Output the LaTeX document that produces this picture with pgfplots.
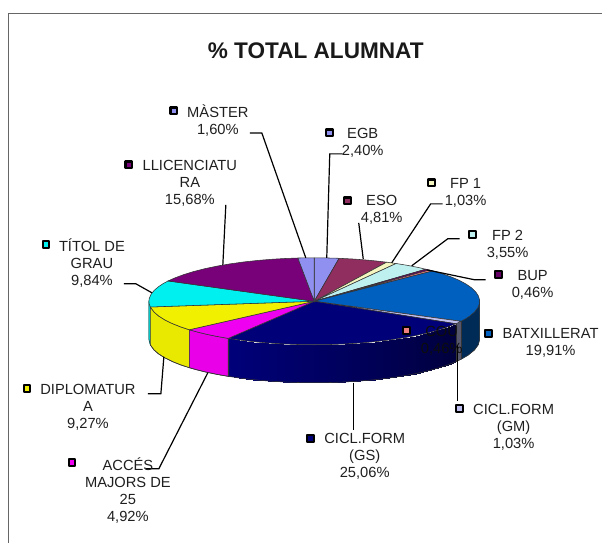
\documentclass[border=0pt]{standalone}
\usepackage{pgfplots}
\pgfplotsset{compat=1.18}
\usepackage{fontspec}
\setmainfont{Liberation Sans}
\tikzset{lab/.style={font=\fontsize{14.7}{17}\selectfont,text=black!88,align=center,inner sep=0pt}}
\pgfplotsset{
  /pgfplots/table/top/.style={row sep=\\,
    x expr={314.5+165.5*\thisrow{r}*sin(3.6*\thisrow{p})},
    y expr={301.5-43.5*\thisrow{r}*cos(3.6*\thisrow{p})}},
  /pgfplots/table/side/.style={row sep=\\,
    x expr={314.5+165.5*sin(3.6*\thisrow{p})},
    y expr={301.5-43.5*cos(3.6*\thisrow{p})+38*\thisrow{z}}},
  slice/.style={fill=#1,draw=black!80,line width=0.55pt,mark=none},
  band/.style={fill=#1,draw=#1,line width=0.3pt,mark=none},
  leader/.style={draw=black,line width=1.2pt,mark=none},
  key/.style={only marks,mark=square*,mark size=3.4pt,
    mark options={draw=black,line width=2.1pt,line join=round,fill=#1}},
}
\definecolor{cegb}{HTML}{9090F0}
\definecolor{ceso}{HTML}{8F2E5F}
\definecolor{cfpa}{HTML}{F5F5C0}
\definecolor{cfpb}{HTML}{BFF0F0}
\definecolor{cbup}{HTML}{660066}
\definecolor{ccou}{HTML}{F08080}
\definecolor{cbat}{HTML}{0060C0}
\definecolor{cgm}{HTML}{C0C0F0}
\definecolor{cgs}{HTML}{000078}
\definecolor{cacc}{HTML}{F000F0}
\definecolor{cdip}{HTML}{F0F000}
\definecolor{ctit}{HTML}{00F0F0}
\definecolor{cllc}{HTML}{780078}
\definecolor{cmas}{HTML}{9090F0}
\begin{document}
\begin{tikzpicture}
\begin{axis}[
  scale only axis,width=602pt,height=543pt,
  xmin=0,xmax=602,ymin=0,ymax=543,y dir=reverse,
  axis line style={draw=none},ticks=none,clip=false,
  colormap={navywall}{rgb255=(0,0,60) rgb255=(0,0,122)}]

% frame
\addplot[draw=black!60,line width=0.9pt,mark=none] coordinates {(8,543) (8,13) (602,13)};

% front wall of the pie
\addplot[band=ctit!92!black] table[side] {p z\\ 72.9 0\\ 74 0\\ 75 0\\ 75 1\\ 74 1\\ 72.9 1\\} -- cycle;
\addplot[slice=cdip!97!black] table[side] {p z\\ 63.63 0\\ 65 0\\ 66.5 0\\ 68 0\\ 69.5 0\\ 71 0\\ 72.9 0\\ 72.9 1\\ 71 1\\ 69.5 1\\ 68 1\\ 66.5 1\\ 65 1\\ 63.63 1\\} -- cycle;
\addplot[slice=cacc!97!black] table[side] {p z\\ 58.71 0\\ 60 0\\ 61.3 0\\ 62.5 0\\ 63.63 0\\ 63.63 1\\ 62.5 1\\ 61.3 1\\ 60 1\\ 58.71 1\\} -- cycle;
\addplot[band=cbat!45!black] table[side] {p z\\ 25 0\\ 27 0\\ 29 0\\ 31 0\\ 32.62 0\\ 32.62 1\\ 31 1\\ 29 1\\ 27 1\\ 25 1\\} -- cycle;
\addplot[band=cgm!45!black] table[side] {p z\\ 32.62 0\\ 33.65 0\\ 33.65 1\\ 32.62 1\\} -- cycle;
\addplot[surf,shader=interp,mesh/rows=2,point meta=\thisrow{p}] table[side] {p z\\
33.65 0\\ 35 0\\ 36.5 0\\ 38 0\\ 39.5 0\\ 41 0\\ 42.5 0\\ 44 0\\ 45.5 0\\ 47 0\\ 48.5 0\\ 50 0\\ 51.5 0\\ 53 0\\ 54.5 0\\ 56 0\\ 57.5 0\\ 58.71 0\\
33.65 1\\ 35 1\\ 36.5 1\\ 38 1\\ 39.5 1\\ 41 1\\ 42.5 1\\ 44 1\\ 45.5 1\\ 47 1\\ 48.5 1\\ 50 1\\ 51.5 1\\ 53 1\\ 54.5 1\\ 56 1\\ 57.5 1\\ 58.71 1\\};
% outline of the wall
\addplot[draw=black!80,line width=0.55pt,mark=none] table[side] {p z\\ 75 0\\ 75 1\\ 72.9 1\\ 71 1\\ 69.5 1\\ 68 1\\ 66.5 1\\ 65 1\\ 63.63 1\\ 62.5 1\\ 61.3 1\\ 60 1\\ 58.71 1\\ 57.5 1\\ 56 1\\ 54.5 1\\ 53 1\\ 51.5 1\\ 50 1\\ 48.5 1\\ 47 1\\ 45.5 1\\ 44 1\\ 42.5 1\\ 41 1\\ 39.5 1\\ 38 1\\ 36.5 1\\ 35 1\\ 33.65 1\\ 32.62 1\\ 31 1\\ 29 1\\ 27 1\\ 25 1\\ 25 0\\};
\addplot[draw=black!80,line width=0.55pt,mark=none] table[side] {p z\\ 58.71 0\\ 58.71 1\\};
\addplot[draw=black!80,line width=0.55pt,mark=none] table[side] {p z\\ 33.65 0\\ 33.65 1\\};
\addplot[draw=black!80,line width=0.55pt,mark=none] table[side] {p z\\ 32.62 0\\ 32.62 1\\};

% top of the pie: cumulative percentages of the slices
\addplot[slice=cegb] table[top] {p r\\ 0 0\\ 0 1\\ 1.2 1\\ 2.4 1\\} -- cycle;
\addplot[slice=ceso] table[top] {p r\\ 0 0\\ 2.4 1\\ 3.6 1\\ 4.8 1\\ 6 1\\ 7.21 1\\} -- cycle;
\addplot[slice=cfpa] table[top] {p r\\ 0 0\\ 7.21 1\\ 8.24 1\\} -- cycle;
\addplot[slice=cfpb] table[top] {p r\\ 0 0\\ 8.24 1\\ 9.5 1\\ 10.7 1\\ 11.79 1\\} -- cycle;
\addplot[slice=cbup] table[top] {p r\\ 0 0\\ 11.79 1\\ 12.25 1\\} -- cycle;
\addplot[slice=ccou] table[top] {p r\\ 0 0\\ 12.25 1\\ 12.71 1\\} -- cycle;
\addplot[slice=cbat] table[top] {p r\\ 0 0\\ 12.71 1\\ 14 1\\ 15.5 1\\ 17 1\\ 18.5 1\\ 20 1\\ 21.5 1\\ 23 1\\ 24.5 1\\ 26 1\\ 27.5 1\\ 29 1\\ 30.5 1\\ 31.5 1\\ 32.62 1\\} -- cycle;
\addplot[slice=cgm] table[top] {p r\\ 0 0\\ 32.62 1\\ 33.65 1\\} -- cycle;
\addplot[slice=cgs] table[top] {p r\\ 0 0\\ 33.65 1\\ 35 1\\ 36.5 1\\ 38 1\\ 39.5 1\\ 41 1\\ 42.5 1\\ 44 1\\ 45.5 1\\ 47 1\\ 48.5 1\\ 50 1\\ 51.5 1\\ 53 1\\ 54.5 1\\ 56 1\\ 57.5 1\\ 58.71 1\\} -- cycle;
\addplot[slice=cacc] table[top] {p r\\ 0 0\\ 58.71 1\\ 60 1\\ 61.3 1\\ 62.5 1\\ 63.63 1\\} -- cycle;
\addplot[slice=cdip] table[top] {p r\\ 0 0\\ 63.63 1\\ 65 1\\ 66.5 1\\ 68 1\\ 69.5 1\\ 71 1\\ 72.9 1\\} -- cycle;
\addplot[slice=ctit] table[top] {p r\\ 0 0\\ 72.9 1\\ 74 1\\ 75 1\\ 76 1\\ 77.5 1\\ 79 1\\ 80.5 1\\ 81.6 1\\ 82.74 1\\} -- cycle;
\addplot[slice=cllc] table[top] {p r\\ 0 0\\ 82.74 1\\ 84 1\\ 85.5 1\\ 87 1\\ 88.5 1\\ 90 1\\ 91.5 1\\ 93 1\\ 94.5 1\\ 96 1\\ 97.2 1\\ 98.42 1\\} -- cycle;
\addplot[slice=cmas] table[top] {p r\\ 0 0\\ 98.42 1\\ 99.2 1\\ 100 1\\} -- cycle;

% leader lines
\addplot[leader] coordinates {(250,133) (262,133) (306,258)};
\addplot[leader] coordinates {(343,154) (330,154) (327,258)};
\addplot[leader] coordinates {(359,223) (363.5,259)};
\addplot[leader] coordinates {(392,263) (431,204) (443,204)};
\addplot[leader] coordinates {(412,266) (448,239) (460,239)};
\addplot[leader] coordinates {(427,270) (475,280) (486,280)};
\addplot[leader] coordinates {(458,345) (458,401)};
\addplot[leader] coordinates {(353.7,383) (353.7,430)};
\addplot[leader] coordinates {(208,373) (159,469) (146,469)};
\addplot[leader] coordinates {(148,394) (161,394) (164,357)};
\addplot[leader] coordinates {(152,293) (136,284) (124,284)};
\addplot[leader] coordinates {(223,265) (226,205)};

% legend keys
\addplot[key=cegb] coordinates {(174,111)};
\addplot[key=cegb] coordinates {(330,133)};
\addplot[key=ceso] coordinates {(348,201)};
\addplot[key=cfpa] coordinates {(431.5,183)};
\addplot[key=cfpb] coordinates {(473,235)};
\addplot[key=cbup] coordinates {(499,275)};
\addplot[key=ccou] coordinates {(407,331)};
\addplot[key=cbat] coordinates {(489,334)};
\addplot[key=cgm] coordinates {(460,409)};
\addplot[key=cgs] coordinates {(311,439)};
\addplot[key=cacc] coordinates {(72,463)};
\addplot[key=cdip] coordinates {(27,389)};
\addplot[key=ctit] coordinates {(46,245)};
\addplot[key=cllc] coordinates {(129,165)};

% texts
\node[font=\fontsize{22.6}{26}\selectfont\bfseries,text=black!90,inner sep=0pt] at (axis cs:316,51) {\% TOTAL ALUMNAT};
\node[lab] at (axis cs:218,120.5) {MÀSTER\\1,60\%};
\node[lab] at (axis cs:363,143) {EGB\\2,40\%};
\node[lab] at (axis cs:382,209.5) {ESO\\4,81\%};
\node[lab] at (axis cs:466,193) {FP 1\\1,03\%};
\node[lab] at (axis cs:508,244.5) {FP 2\\3,55\%};
\node[lab] at (axis cs:533,285) {BUP\\0,46\%};
\node[lab,text=black!95] at (axis cs:442,341) {COU\\0,46\%};
\node[lab] at (axis cs:551,343.5) {BATXILLERAT\\19,91\%};
\node[lab] at (axis cs:514,427.5) {CICL.FORM\\(GM)\\1,03\%};
\node[lab] at (axis cs:365,457) {CICL.FORM\\(GS)\\25,06\%};
\node[lab] at (axis cs:128,490.5) {ACCÉS\\MAJORS DE\\25\\4,92\%};
\node[lab] at (axis cs:88,408) {DIPLOMATUR\\A\\9,27\%};
\node[lab] at (axis cs:92,263.5) {TÍTOL DE\\GRAU\\9,84\%};
\node[lab] at (axis cs:190,183.5) {LLICENCIATU\\RA\\15,68\%};
\end{axis}
\end{tikzpicture}
\end{document}
